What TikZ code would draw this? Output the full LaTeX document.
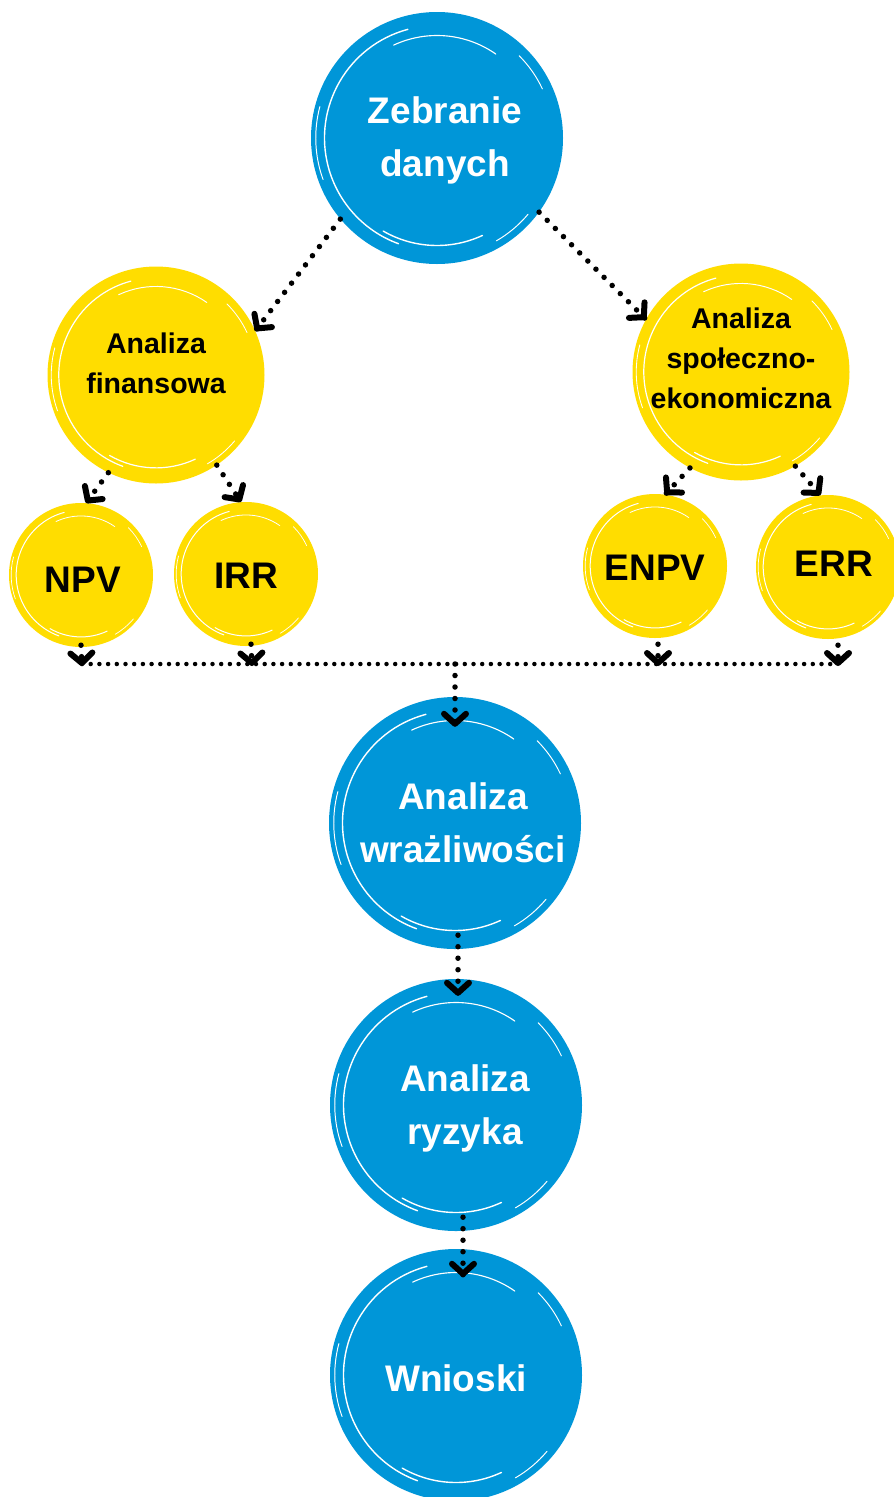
\documentclass[tikz,border=0pt]{standalone}
\usepackage{fontspec}
\setmainfont{Liberation Sans}
\usetikzlibrary{decorations.markings}
\definecolor{cblue}{RGB}{0,150,216}
\definecolor{cyel}{RGB}{255,221,0}
\newcommand\brushmarks[2]{%
  \draw[white,line width=#2,line cap=round] ([shift={(-105:0.9*#1)}]path picture bounding box.center) arc[start angle=-105,end angle=-250,radius=0.9*#1];
  \draw[white,line width=0.8*#2,line cap=round] ([shift={(-55:0.82*#1)}]path picture bounding box.center) arc[start angle=-55,end angle=-115,radius=0.82*#1];
  \draw[white,line width=#2,line cap=round] ([shift={(-240:0.86*#1)}]path picture bounding box.center) arc[start angle=-240,end angle=-295,radius=0.86*#1];
  \draw[white,line width=0.7*#2,line cap=round] ([shift={(-165:0.97*#1)}]path picture bounding box.center) arc[start angle=-165,end angle=-200,radius=0.97*#1];
  \draw[white,line width=0.7*#2,line cap=round] ([shift={(-25:0.93*#1)}]path picture bounding box.center) arc[start angle=-25,end angle=-45,radius=0.93*#1];
  \draw[white,line width=0.7*#2,line cap=round] ([shift={(-300:0.95*#1)}]path picture bounding box.center) arc[start angle=-300,end angle=-320,radius=0.95*#1];
}
\begin{document}
\begin{tikzpicture}[x=1pt,y=-1pt,
  blob/.style={circle,inner sep=0pt,draw=none},
  bigblob/.style={blob,fill=cblue,minimum size=252pt,path picture={\brushmarks{125}{1.4pt}}},
  midblob/.style={blob,fill=cyel,minimum size=217pt,path picture={\brushmarks{108}{1.2pt}}},
  smallblob/.style={blob,fill=cyel,minimum size=144pt,path picture={\brushmarks{72}{1pt}}},
  bigtxt/.style={inner sep=0pt,align=center,text=white,font=\bfseries\fontsize{37}{53}\selectfont},
  midtxt/.style={inner sep=0pt,align=center,text=black,font=\bfseries\fontsize{28.5}{40}\selectfont},
  smalltxt/.style={inner sep=0pt,align=center,text=black,font=\bfseries\fontsize{37}{44}\selectfont},
  chevron/.style={postaction={decorate,decoration={markings,mark=at position 1 with {%
      \draw[solid,line width=6pt,line cap=round,line join=round] (-13pt,-11pt) -- (-3pt,0pt) -- (-13pt,11pt);}}}},
  dots/.style={line width=5.5pt,line cap=round,dash pattern=on 0pt off 11.5pt,chevron},
  vdots/.style={line width=5.5pt,line cap=round,dash pattern=on 0pt off 11.5pt,chevron},
  busdots/.style={line width=4.5pt,line cap=round,dash pattern=on 0pt off 8.7pt}]
\useasboundingbox (0,0) rectangle (894,1497);
\fill[white] (0,0) rectangle (894,1497);

% circles
\node[bigblob] (zeb) at (437,138) {};
\node[midblob] (fin) at (156,375) {};
\node[midblob] (soc) at (741,372) {};
\node[smallblob] (npv) at (81,575) {};
\node[smallblob] (irr) at (246,574) {};
\node[smallblob] (enpv) at (655,566) {};
\node[smallblob] (err) at (828,567) {};
\node[bigblob] (wra) at (455,823) {};
\node[bigblob] (ryz) at (456,1105) {};
\node[bigblob] (wni) at (456,1375) {};

% texts
\node[bigtxt] (zebt) at (445,140) {Zebranie\\danych};
\node[midtxt] (fint) at (156,363) {Analiza\\finansowa};
\node[midtxt] (soct) at (741,358) {Analiza\\społeczno-\\ekonomiczna};
\node[smalltxt] (npvt) at (83,580) {NPV};
\node[smalltxt] (irrt) at (246,576) {IRR};
\node[smalltxt] (enpvt) at (655,568) {ENPV};
\node[smalltxt] (errt) at (834,564) {ERR};
\node[bigtxt] (wrat) at (463,823) {Analiza\\wrażliwości};
\node[bigtxt] (ryzt) at (465,1108) {Analiza\\ryzyka};
\node[bigtxt] (wnit) at (456,1378) {Wnioski};

% bus coordinates
\coordinate (b1) at (82,666);
\coordinate (b2) at (252,666);
\coordinate (b3) at (658,666);
\coordinate (b4) at (838,666);
\coordinate (bm) at (455,664);
\coordinate (bl) at (82,664);
\coordinate (br) at (838,664);

% connectors
\draw[dots] (zeb.220) -- (fin.24);
\draw[dots] (zeb.324) -- (soc.151);
\draw[dots] (fin.244) -- (npv.86);
\draw[dots] (fin.304) -- (irr.94);
\draw[dots] (soc.242) -- (enpv.82);
\draw[dots] (soc.300) -- (err.96);

\draw[busdots] (bl) -- (br);
\draw[vdots] ([yshift=2pt]npv.south) -- (b1);
\draw[vdots] ([xshift=5pt,yshift=2pt]irr.south) -- (b2);
\draw[vdots] ([xshift=3pt,yshift=-6pt]enpv.south) -- (b3);
\draw[vdots] ([xshift=10pt,yshift=-6pt]err.south) -- (b4);
\draw[vdots] (bm) -- ([yshift=-30pt]wra.north);
\draw[vdots] ([xshift=3pt,yshift=14pt]wra.south) -- ([xshift=2pt,yshift=-17pt]ryz.north);
\draw[vdots] ([xshift=7pt,yshift=14pt]ryz.south) -- ([xshift=7pt,yshift=-28pt]wni.north);
\end{tikzpicture}
\end{document}
